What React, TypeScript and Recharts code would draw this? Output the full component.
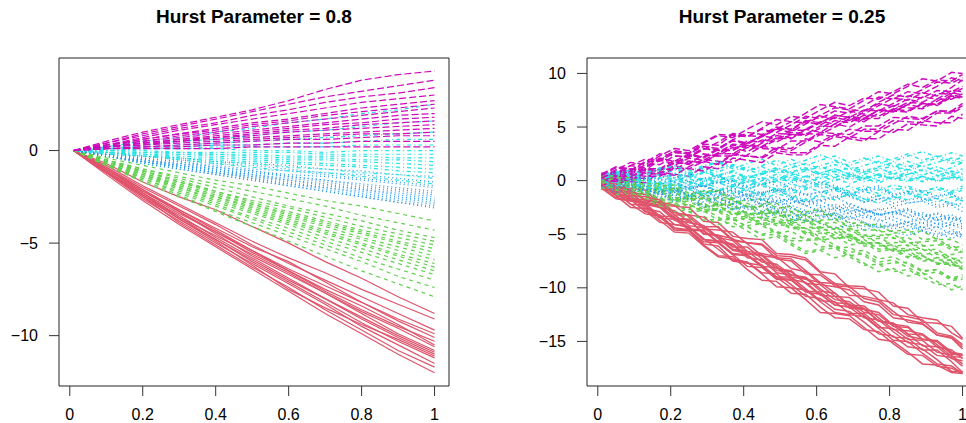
import { LineChart, Line, XAxis, YAxis, ReferenceArea } from 'recharts'

// time grid of each panel
const X_LEFT = [0.01, 0.1, 0.2, 0.3, 0.4, 0.5, 0.6, 0.7, 0.8, 0.9, 1.0]
const X_RIGHT = [
  0.01, 0.05, 0.09, 0.13, 0.17, 0.21, 0.25, 0.29, 0.33, 0.37, 0.41, 0.45, 0.49,
  0.53, 0.57, 0.61, 0.65, 0.69, 0.73, 0.77, 0.81, 0.85, 0.89, 0.93, 0.97, 1.0,
]
const X_TICKS = [0, 0.2, 0.4, 0.6, 0.8, 1]
const LEFT_Y_TICKS = [-10, -5, 0]
const RIGHT_Y_TICKS = [-15, -10, -5, 0, 5, 10]

// Hurst = 0.8 paths
const LEFT_RED = [
  [0, -0.7, -1.7, -2.5, -3.2, -4.1, -5.0, -6.0, -6.9, -7.9, -8.8],
  [0, -0.8, -1.9, -2.9, -3.9, -4.9, -5.8, -6.6, -7.5, -8.3, -9.1],
  [0, -0.9, -2.0, -3.0, -4.0, -5.1, -6.1, -7.0, -7.9, -8.8, -9.7],
  [0, -1.0, -2.2, -3.2, -4.2, -5.2, -6.0, -7.1, -8.2, -9.1, -9.9],
  [0, -1.0, -2.1, -3.3, -4.4, -5.4, -6.4, -7.3, -8.2, -9.2, -10.1],
  [0, -0.9, -2.1, -3.2, -4.3, -5.4, -6.5, -7.6, -8.6, -9.5, -10.3],
  [0, -1.1, -2.3, -3.4, -4.4, -5.5, -6.5, -7.5, -8.4, -9.4, -10.5],
  [0, -1.0, -2.2, -3.3, -4.5, -5.7, -6.7, -7.7, -8.7, -9.6, -10.6],
  [0, -1.1, -2.4, -3.6, -4.6, -5.6, -6.6, -7.7, -8.8, -9.9, -10.8],
  [0, -1.2, -2.4, -3.5, -4.7, -5.8, -6.9, -8.0, -9.0, -10.0, -10.9],
  [0, -1.0, -2.3, -3.6, -4.8, -5.9, -7.0, -8.0, -9.1, -10.1, -11.0],
  [0, -1.1, -2.5, -3.7, -4.8, -6.0, -7.1, -8.2, -9.3, -10.3, -11.2],
  [0, -1.2, -2.6, -3.8, -5.0, -6.1, -7.2, -8.3, -9.5, -10.5, -11.5],
  [0, -1.2, -2.5, -3.9, -5.1, -6.3, -7.4, -8.6, -9.7, -10.8, -11.7],
  [0, -1.3, -2.7, -4.0, -5.2, -6.4, -7.6, -8.8, -9.9, -11.0, -12.0],
  [0, -1.1, -2.4, -3.7, -4.9, -6.2, -7.5, -8.5, -9.4, -10.2, -11.1],
]
const LEFT_GREEN = [
  [0, -0.4, -0.8, -1.2, -1.6, -1.9, -2.3, -2.7, -3.0, -3.4, -3.8],
  [0, -0.5, -1.0, -1.4, -1.8, -2.2, -2.6, -3.0, -3.5, -3.9, -4.3],
  [0, -0.5, -1.0, -1.5, -2.0, -2.5, -3.0, -3.4, -3.8, -4.3, -4.7],
  [0, -0.6, -1.1, -1.7, -2.2, -2.7, -3.1, -3.6, -4.1, -4.5, -4.9],
  [0, -0.5, -1.1, -1.6, -2.2, -2.8, -3.3, -3.8, -4.3, -4.7, -5.1],
  [0, -0.6, -1.2, -1.8, -2.4, -2.9, -3.4, -3.9, -4.4, -4.9, -5.3],
  [0, -0.6, -1.1, -1.7, -2.3, -2.9, -3.5, -4.0, -4.5, -5.0, -5.5],
  [0, -0.6, -1.2, -1.9, -2.5, -3.0, -3.6, -4.1, -4.7, -5.2, -5.7],
  [0, -0.7, -1.3, -1.9, -2.5, -3.1, -3.7, -4.3, -4.8, -5.4, -5.9],
  [0, -0.6, -1.3, -2.0, -2.6, -3.2, -3.8, -4.4, -5.0, -5.6, -6.1],
  [0, -0.7, -1.4, -2.0, -2.7, -3.3, -3.9, -4.5, -5.1, -5.7, -6.3],
  [0, -0.7, -1.4, -2.1, -2.8, -3.4, -4.0, -4.7, -5.3, -5.9, -6.5],
  [0, -0.7, -1.5, -2.2, -2.9, -3.6, -4.2, -4.9, -5.5, -6.1, -6.7],
  [0, -0.8, -1.5, -2.3, -3.0, -3.7, -4.4, -5.1, -5.8, -6.4, -7.0],
  [0, -0.8, -1.6, -2.4, -3.2, -3.9, -4.6, -5.3, -6.0, -6.8, -7.4],
  [0, -0.8, -1.7, -2.5, -3.3, -4.1, -4.9, -5.7, -6.5, -7.2, -7.9],
]
const LEFT_BLUE = [
  [0, -0.1, -0.3, -0.4, -0.6, -0.7, -0.8, -1.0, -1.1, -1.3, -1.4],
  [0, -0.2, -0.3, -0.5, -0.7, -0.8, -1.0, -1.2, -1.3, -1.5, -1.7],
  [0, -0.2, -0.4, -0.6, -0.8, -1.0, -1.1, -1.3, -1.5, -1.7, -1.9],
  [0, -0.2, -0.4, -0.6, -0.9, -1.1, -1.3, -1.4, -1.6, -1.8, -2.0],
  [0, -0.2, -0.5, -0.7, -0.9, -1.1, -1.4, -1.6, -1.8, -2.0, -2.2],
  [0, -0.3, -0.5, -0.7, -1.0, -1.2, -1.4, -1.6, -1.9, -2.1, -2.3],
  [0, -0.3, -0.5, -0.8, -1.0, -1.3, -1.5, -1.7, -2.0, -2.2, -2.4],
  [0, -0.3, -0.5, -0.8, -1.1, -1.3, -1.6, -1.8, -2.1, -2.3, -2.5],
  [0, -0.3, -0.6, -0.8, -1.1, -1.4, -1.6, -1.9, -2.1, -2.4, -2.6],
  [0, -0.3, -0.6, -0.9, -1.2, -1.4, -1.7, -2.0, -2.2, -2.5, -2.7],
  [0, -0.3, -0.6, -0.9, -1.2, -1.5, -1.8, -2.0, -2.3, -2.6, -2.8],
  [0, -0.3, -0.6, -0.9, -1.2, -1.5, -1.8, -2.1, -2.4, -2.7, -2.9],
  [0, -0.3, -0.7, -1.0, -1.3, -1.6, -1.9, -2.2, -2.5, -2.8, -3.0],
  [0, -0.3, -0.7, -1.0, -1.3, -1.6, -1.9, -2.2, -2.5, -2.8, -3.1],
]
const LEFT_CYAN = [
  [0, 0.2, 0.5, 0.7, 1.0, 1.2, 1.5, 1.7, 2.0, 2.2, 2.5],
  [0, 0.1, 0.3, 0.5, 0.6, 0.8, 1.0, 1.1, 1.3, 1.5, 1.6],
  [0, 0.1, 0.2, 0.3, 0.4, 0.5, 0.6, 0.7, 0.8, 0.9, 1.0],
  [0, 0.1, 0.1, 0.2, 0.3, 0.3, 0.4, 0.4, 0.5, 0.6, 0.6],
  [0, 0.0, 0.1, 0.1, 0.2, 0.2, 0.2, 0.2, 0.3, 0.3, 0.3],
  [0, 0.0, 0.1, 0.1, 0.1, 0.0, 0.0, -0.1, 0.0, 0.0, 0.0],
  [0, 0.0, 0.0, -0.1, -0.1, -0.1, -0.1, -0.2, -0.2, -0.2, -0.2],
  [0, 0.0, -0.1, -0.1, -0.2, -0.2, -0.3, -0.3, -0.3, -0.4, -0.4],
  [0, -0.1, -0.1, -0.2, -0.2, -0.3, -0.4, -0.4, -0.5, -0.5, -0.6],
  [0, -0.1, -0.2, -0.2, -0.3, -0.4, -0.5, -0.5, -0.6, -0.7, -0.8],
  [0, -0.1, -0.2, -0.3, -0.4, -0.5, -0.6, -0.7, -0.8, -0.9, -1.0],
  [0, -0.1, -0.2, -0.4, -0.5, -0.6, -0.7, -0.8, -0.9, -1.1, -1.2],
  [0, -0.1, -0.3, -0.4, -0.6, -0.7, -0.9, -1.0, -1.2, -1.3, -1.5],
  [0, -0.2, -0.3, -0.5, -0.7, -0.9, -1.1, -1.2, -1.4, -1.6, -1.8],
]
const LEFT_MAGENTA = [
  [0, 0.5, 1.0, 1.4, 1.8, 2.2, 2.7, 3.3, 3.8, 4.1, 4.3],
  [0, 0.4, 0.9, 1.3, 1.7, 2.1, 2.5, 2.9, 3.2, 3.5, 3.8],
  [0, 0.4, 0.8, 1.2, 1.5, 1.9, 2.2, 2.6, 2.9, 3.1, 3.4],
  [0, 0.3, 0.7, 1.1, 1.4, 1.7, 2.0, 2.3, 2.6, 2.8, 3.0],
  [0, 0.3, 0.6, 0.9, 1.2, 1.5, 1.7, 2.0, 2.3, 2.5, 2.7],
  [0, 0.3, 0.6, 0.9, 1.1, 1.4, 1.6, 1.9, 2.1, 2.3, 2.5],
  [0, 0.3, 0.5, 0.8, 1.0, 1.3, 1.5, 1.7, 1.9, 2.1, 2.3],
  [0, 0.3, 0.5, 0.7, 0.9, 1.1, 1.3, 1.5, 1.7, 1.9, 2.0],
  [0, 0.2, 0.4, 0.6, 0.8, 1.0, 1.2, 1.4, 1.5, 1.7, 1.8],
  [0, 0.2, 0.4, 0.6, 0.7, 0.9, 1.1, 1.2, 1.4, 1.5, 1.6],
  [0, 0.2, 0.4, 0.5, 0.7, 0.8, 1.0, 1.1, 1.2, 1.3, 1.4],
  [0, 0.2, 0.3, 0.5, 0.6, 0.7, 0.8, 0.9, 1.0, 1.1, 1.2],
  [0, 0.2, 0.3, 0.4, 0.5, 0.6, 0.7, 0.8, 0.9, 0.9, 1.0],
  [0, 0.1, 0.2, 0.3, 0.4, 0.5, 0.6, 0.6, 0.7, 0.8, 0.8],
  [0, 0.1, 0.2, 0.2, 0.3, 0.3, 0.4, 0.4, 0.5, 0.5, 0.5],
  [0, 0.1, 0.1, 0.1, 0.1, 0.2, 0.2, 0.2, 0.2, 0.2, 0.2],
]

// Hurst = 0.25 paths
const RIGHT_RED = [
  [-.5, -1.4, -1.7, -2.9, -3.2, -4.4, -4.6, -5.9, -6.1, -7.4, -7.6, -8.6, -8.7, -9.7, -10.8, -11.0, -12.0, -12.2, -13.2, -14.3, -14.5, -15.5, -15.7, -16.7, -17.8, -17.8],
  [.2, -.7, -.9, -1.9, -2.0, -3.2, -3.2, -4.3, -4.3, -5.5, -5.8, -6.0, -7.3, -7.5, -8.7, -8.8, -9.8, -9.9, -11.0, -11.3, -12.5, -12.7, -13.0, -14.2, -14.5, -15.3],
  [-.3, -1.3, -1.4, -2.4, -3.5, -3.6, -4.6, -4.7, -5.8, -6.9, -7.0, -8.0, -8.1, -9.2, -10.3, -10.4, -11.4, -11.5, -12.6, -13.7, -13.8, -14.8, -14.9, -16.0, -16.3, -17.1],
  [0, -1.0, -1.2, -2.2, -2.4, -3.5, -3.6, -5.0, -5.1, -6.2, -6.2, -7.3, -8.4, -8.5, -9.6, -9.7, -10.8, -10.9, -12.0, -13.1, -13.3, -14.3, -14.4, -15.5, -15.8, -16.6],
  [-.8, -1.0, -2.2, -3.1, -3.3, -4.6, -4.7, -6.0, -7.0, -7.1, -8.3, -9.3, -9.4, -10.5, -10.6, -11.8, -12.8, -12.9, -13.9, -14.1, -15.2, -16.2, -16.3, -17.3, -17.5, -18.0],
  [.5, -.5, -.7, -.9, -2.2, -2.4, -2.5, -3.8, -3.9, -5.2, -5.4, -5.5, -6.8, -6.9, -7.2, -8.5, -8.7, -10.0, -10.1, -10.4, -11.7, -11.9, -13.2, -13.3, -13.6, -14.7],
  [-.2, -1.2, -1.5, -2.6, -2.9, -4.1, -4.3, -5.5, -5.7, -6.0, -7.2, -7.4, -8.6, -8.8, -9.1, -10.3, -10.5, -11.7, -11.9, -13.1, -13.4, -13.6, -14.8, -15.0, -16.2, -16.3],
  [-.4, -.6, -1.8, -2.0, -2.3, -3.5, -3.7, -4.9, -5.1, -5.4, -6.6, -6.8, -7.1, -8.2, -8.5, -9.7, -9.9, -10.2, -11.3, -11.6, -12.8, -13.0, -13.3, -14.4, -14.7, -15.7],
  [-.1, -1.1, -2.2, -2.3, -3.4, -4.5, -4.6, -5.7, -5.8, -6.9, -8.0, -8.1, -9.2, -9.3, -10.4, -10.6, -11.6, -11.8, -12.8, -13.0, -14.1, -15.1, -15.3, -16.3, -16.5, -17.3],
  [-.6, -.8, -1.1, -2.2, -2.5, -3.7, -3.9, -4.2, -5.3, -5.6, -6.8, -7.0, -8.2, -8.4, -9.6, -10.7, -10.8, -11.9, -12.0, -13.1, -13.3, -14.3, -15.4, -15.5, -16.6, -16.8],
  [.3, .1, -1.1, -1.3, -2.5, -2.8, -3.9, -4.2, -5.3, -6.4, -6.6, -7.6, -7.8, -8.8, -9.0, -10.1, -11.1, -11.3, -12.3, -12.5, -13.6, -13.7, -14.8, -14.9, -16.0, -16.2],
  [-.7, -1.7, -1.9, -2.1, -3.3, -3.4, -4.5, -4.6, -5.7, -6.8, -6.9, -7.9, -9.0, -9.0, -10.1, -11.2, -11.3, -12.4, -12.4, -13.5, -14.6, -14.7, -15.8, -15.8, -16.9, -17.9],
  [.1, -.9, -1.9, -2.1, -2.4, -3.4, -4.4, -5.5, -5.6, -5.9, -7.0, -8.0, -9.1, -9.2, -9.5, -10.6, -11.6, -11.8, -12.0, -12.3, -13.5, -14.5, -14.8, -15.0, -16.1, -16.3],
  [-.4, -.5, -.8, -1.8, -2.0, -2.3, -3.4, -4.5, -4.6, -4.8, -5.9, -7.0, -7.2, -7.3, -8.4, -9.5, -9.6, -10.7, -10.8, -11.1, -12.2, -13.2, -13.4, -14.4, -14.6, -15.5],
  [-.6, -1.6, -1.8, -2.8, -3.9, -4.1, -4.3, -5.4, -6.4, -7.5, -7.7, -7.9, -9.0, -10.0, -10.2, -11.3, -12.3, -12.5, -12.7, -13.8, -14.9, -15.0, -16.1, -17.1, -17.3, -18.0],
  [.4, -.6, -1.7, -1.8, -2.1, -3.2, -4.2, -4.4, -5.4, -6.5, -6.8, -6.9, -8.0, -9.0, -9.2, -9.5, -10.5, -11.6, -11.7, -12.8, -13.9, -14.0, -14.3, -15.3, -16.4, -16.5],
  [-.2, -.3, -1.4, -1.5, -1.8, -3.0, -3.2, -3.4, -4.4, -5.6, -5.8, -5.9, -7.0, -7.1, -7.4, -8.6, -9.6, -9.8, -9.9, -11.1, -11.4, -12.5, -12.8, -13.0, -14.2, -14.8],
  [-.3, -1.4, -2.5, -2.6, -3.7, -4.8, -4.9, -6.1, -7.1, -7.3, -7.6, -8.7, -9.9, -10.0, -11.1, -12.3, -12.4, -12.6, -13.7, -14.8, -15.0, -16.0, -17.1, -17.2, -17.9, -18.0],
]
const RIGHT_GREEN = [
  [.2, .2, -.5, -.2, -1.0, -.8, -1.5, -1.2, -1.9, -1.7, -2.5, -2.4, -3.3, -3.2, -3.2, -4.0, -3.9, -4.7, -4.6, -4.6, -5.4, -5.3, -6.1, -6.0, -6.0, -6.7],
  [-.5, -.5, -1.3, -1.2, -2.2, -2.0, -2.9, -2.8, -3.7, -3.6, -4.3, -5.0, -4.7, -5.4, -5.3, -6.2, -6.1, -7.0, -6.8, -7.6, -7.4, -8.1, -8.8, -8.5, -9.3, -9.2],
  [0, .1, -.8, -.7, -.7, -1.6, -1.5, -2.4, -2.2, -2.2, -3.1, -3.0, -3.9, -3.7, -3.7, -4.6, -4.5, -5.4, -5.2, -5.2, -6.1, -6.0, -6.9, -6.7, -7.5, -7.4],
  [-.3, -.2, -1.0, -.9, -1.8, -1.7, -2.5, -2.1, -2.9, -2.9, -3.9, -3.7, -3.6, -4.4, -4.4, -5.3, -5.1, -6.0, -5.8, -5.8, -6.6, -6.5, -7.4, -7.2, -8.0, -7.9],
  [.5, -.2, 0, 0, -.9, -.6, -1.4, -1.1, -1.0, -2.0, -1.8, -1.7, -2.6, -2.4, -3.4, -3.2, -3.1, -4.0, -3.9, -4.8, -4.7, -4.6, -5.5, -5.4, -6.3, -6.1],
  [-.8, -.7, -1.5, -2.2, -2.0, -2.8, -3.6, -3.3, -4.1, -3.9, -4.7, -5.5, -5.2, -6.0, -6.8, -6.5, -7.2, -6.9, -7.7, -8.5, -8.2, -8.9, -8.6, -9.4, -10.2, -9.8],
  [-.1, 0, -.7, -.5, -1.3, -1.1, -1.8, -1.6, -2.3, -3.1, -2.9, -3.6, -3.4, -4.1, -4.9, -4.7, -5.4, -5.2, -5.9, -5.8, -6.5, -7.2, -7.0, -7.7, -7.6, -8.2],
  [.1, -.6, -.4, -1.1, -1.9, -1.7, -2.4, -2.2, -2.9, -3.7, -3.5, -4.2, -4.9, -4.7, -5.5, -5.3, -6.0, -6.7, -6.5, -7.3, -7.1, -7.8, -8.5, -8.3, -9.1, -8.8],
  [-.2, -.1, 0, -.8, -.8, -.7, -1.5, -1.4, -2.2, -2.2, -2.1, -2.9, -2.8, -3.6, -3.6, -4.4, -4.3, -5.1, -5.0, -5.9, -5.8, -5.7, -6.5, -6.4, -7.3, -7.2],
  [.3, -.4, -1.1, -.9, -1.7, -1.5, -2.2, -2.9, -2.7, -3.5, -3.3, -4.0, -3.8, -4.5, -4.4, -4.3, -5.1, -5.0, -5.8, -5.8, -6.6, -6.5, -6.4, -7.2, -7.2, -7.7],
  [-.6, -1.3, -1.1, -1.8, -1.7, -2.4, -2.2, -2.9, -2.7, -2.7, -3.5, -3.4, -4.2, -4.1, -5.0, -4.9, -4.8, -5.6, -5.5, -6.4, -6.3, -7.1, -7.0, -7.8, -7.8, -8.3],
  [.4, .5, -.3, -1.0, -.9, -1.8, -1.6, -2.5, -2.3, -2.3, -3.2, -3.1, -3.0, -3.9, -3.9, -3.8, -4.6, -4.5, -5.4, -5.4, -5.3, -6.1, -6.0, -6.9, -6.9, -6.6],
  [-.4, -.3, -.3, -1.0, -1.8, -1.8, -1.7, -1.6, -2.4, -3.2, -3.1, -3.0, -2.9, -3.7, -4.5, -4.4, -4.3, -5.1, -5.8, -6.6, -6.4, -6.3, -7.0, -7.7, -7.7, -8.2],
  [.1, -.7, -1.4, -1.3, -2.2, -2.9, -2.7, -2.6, -3.4, -4.3, -4.2, -4.0, -4.8, -5.6, -5.6, -5.5, -6.3, -6.2, -7.0, -7.8, -7.7, -7.6, -8.4, -8.3, -9.2, -9.0],
  [.3, .4, -.4, -.3, -.3, -1.1, -1.8, -1.7, -1.6, -1.6, -2.4, -3.1, -3.0, -2.9, -3.8, -3.7, -3.6, -4.4, -5.1, -5.1, -5.0, -5.8, -5.7, -5.6, -6.5, -6.4],
  [-.7, -.6, -.5, -1.3, -2.1, -2.0, -1.9, -2.7, -2.6, -2.6, -3.3, -4.1, -4.0, -3.9, -4.8, -5.5, -5.4, -5.3, -6.1, -6.1, -6.0, -6.8, -7.5, -7.4, -7.4, -8.0],
  [-.1, -.9, -.8, -1.6, -2.4, -2.2, -2.9, -3.7, -3.6, -3.5, -4.3, -5.1, -5.0, -5.8, -6.6, -6.4, -6.3, -7.1, -7.9, -7.8, -8.5, -8.3, -9.0, -9.7, -9.6, -10.2],
  [0, .2, .3, -.5, -.5, -.4, -1.2, -1.0, -.9, -1.8, -2.5, -2.3, -2.1, -2.9, -2.9, -2.7, -3.5, -4.3, -4.1, -4.1, -4.9, -4.8, -4.7, -5.5, -5.5, -6.0],
]
const RIGHT_BLUE = [
  [-.3, -.8, -.5, -1.3, -1.0, -1.7, -1.4, -2.2, -1.9, -2.7, -2.3, -2.9, -2.4, -3.0, -3.5, -3.2, -3.7, -3.4, -3.9, -4.4, -4.1, -4.6, -4.3, -4.8, -5.4, -5.0],
  [.4, -.1, .3, -.3, .2, -.5, 0, -.6, -.1, -.8, -.5, -.3, -1.0, -.8, -1.4, -1.0, -1.5, -1.1, -1.7, -1.4, -2.1, -1.8, -1.6, -2.3, -2.1, -2.5],
  [-.1, -.7, -.2, -.8, -1.3, -.9, -1.4, -1.0, -1.6, -2.2, -1.7, -2.3, -1.8, -2.5, -3.0, -2.6, -3.1, -2.7, -3.3, -3.8, -3.4, -3.9, -3.5, -4.1, -3.9, -4.3],
  [.2, -.4, 0, -.6, -.2, -.8, -.4, -1.3, -.9, -1.5, -.9, -1.6, -2.1, -1.8, -2.3, -1.9, -2.5, -2.1, -2.7, -3.2, -2.9, -3.4, -3.0, -3.6, -3.4, -3.8],
  [-.6, -.4, -1.0, -1.5, -1.1, -1.9, -1.5, -2.3, -2.8, -2.4, -3.0, -3.6, -3.1, -3.8, -3.3, -4.0, -4.5, -4.1, -4.6, -4.2, -4.8, -5.1, -4.7, -5.2, -4.9, -5.3],
  [.7, .1, .5, .7, 0, .3, .7, -.1, .3, -.5, -.1, .2, -.5, -.2, .1, -.7, -.4, -1.2, -.8, -.5, -1.3, -1.0, -1.8, -1.4, -1.2, -1.9],
  [0, -.6, -.3, -1.0, -.7, -1.4, -1.1, -1.8, -1.5, -1.3, -1.9, -1.7, -2.3, -2.1, -1.8, -2.5, -2.2, -2.9, -2.6, -3.2, -3.0, -2.7, -3.4, -3.1, -3.8, -3.5],
  [-.2, 0, -.6, -.4, -.1, -.8, -.5, -1.2, -.9, -.7, -1.3, -1.1, -.8, -1.5, -1.2, -1.9, -1.6, -1.4, -2.0, -1.7, -2.4, -2.1, -1.9, -2.5, -2.3, -2.9],
  [.1, -.5, -1.0, -.7, -1.2, -1.8, -1.4, -2.0, -1.6, -2.2, -2.7, -2.4, -2.9, -2.6, -3.1, -2.8, -3.3, -3.0, -3.5, -3.1, -3.7, -4.2, -3.9, -4.4, -4.1, -4.5],
  [-.4, -.2, .1, -.6, -.3, -1.0, -.7, -.5, -1.1, -.9, -1.5, -1.3, -1.9, -1.7, -2.3, -2.9, -2.5, -3.1, -2.7, -3.2, -2.9, -3.4, -4.0, -3.6, -4.2, -4.0],
  [.5, .7, .1, .3, -.3, -.1, -.7, -.5, -1.1, -1.7, -1.3, -1.9, -1.5, -2.1, -1.7, -2.3, -2.8, -2.5, -3.0, -2.6, -3.2, -2.8, -3.4, -3.0, -3.6, -3.4],
  [-.5, -1.1, -.7, -.5, -1.1, -.7, -1.3, -.9, -1.5, -2.1, -1.6, -2.2, -2.7, -2.3, -2.8, -3.4, -3.0, -3.6, -3.1, -3.6, -4.2, -3.8, -4.4, -3.9, -4.5, -5.1],
  [-.3, -.1, .1, -.5, -1.0, -.9, -.6, -.4, -1.0, -1.6, -1.3, -1.1, -.8, -1.5, -2.0, -1.8, -1.5, -2.2, -2.7, -3.2, -2.9, -2.6, -3.2, -3.7, -3.5, -3.9],
  [.2, -.5, -1.0, -.8, -1.4, -2.0, -1.6, -1.4, -2.0, -2.7, -2.4, -2.1, -2.7, -3.4, -3.1, -2.9, -3.5, -3.3, -3.9, -4.4, -4.2, -3.9, -4.6, -4.3, -5.0, -4.7],
  [.4, .6, 0, .2, .5, -.2, -.7, -.5, -.2, 0, -.6, -1.2, -.9, -.7, -1.3, -1.1, -.8, -1.5, -2.0, -1.7, -1.5, -2.1, -1.9, -1.6, -2.3, -2.1],
  [-.6, -.4, -.1, -.8, -1.3, -1.1, -.8, -1.5, -1.2, -1.0, -1.5, -2.2, -1.9, -1.7, -2.3, -2.9, -2.6, -2.4, -3.0, -2.7, -2.5, -3.1, -3.7, -3.4, -3.2, -3.7],
  [0, -.7, -.4, -1.1, -1.6, -1.3, -1.8, -2.5, -2.2, -1.9, -2.5, -3.2, -2.9, -3.4, -3.8, -3.5, -3.2, -3.9, -4.3, -4.0, -4.5, -4.2, -4.7, -5.0, -4.7, -5.1],
  [.1, .4, .7, 0, .3, .5, -.1, .2, .5, -.2, -.7, -.4, 0, -.7, -.4, -.1, -.7, -1.4, -1.0, -.7, -1.4, -1.1, -.9, -1.5, -1.3, -1.7],
]
const RIGHT_CYAN = [
  [.3, .6, .2, .8, .5, 1.0, .6, 1.2, .8, 1.4, .9, 1.3, .7, 1.2, 1.6, 1.1, 1.5, 1.0, 1.4, 1.8, 1.3, 1.8, 1.3, 1.7, 2.1, 1.6],
  [-.4, -.1, -.6, -.2, -.7, -.2, -.8, -.4, -1.0, -.5, -.9, -1.3, -.7, -1.0, -.5, -1.1, -.7, -1.3, -.8, -1.2, -.7, -1.0, -1.4, -.8, -1.2, -.9],
  [.1, .5, -.1, .3, .8, .2, .6, 0, .5, .9, .3, .7, .1, .7, 1.1, .5, .9, .3, .8, 1.2, .6, 1.1, .5, 1.0, .6, .9],
  [-.2, .2, -.3, .1, -.3, .1, -.4, .3, -.2, .2, -.5, 0, .4, 0, .4, -.2, .3, -.3, .2, .6, .1, .6, 0, .5, .1, .4],
  [.6, .2, .7, 1.0, .6, 1.2, .7, 1.3, 1.7, 1.1, 1.6, 2.0, 1.4, 2.0, 1.4, 1.9, 2.3, 1.7, 2.1, 1.6, 2.0, 2.5, 1.9, 2.3, 1.8, 2.2],
  [-.7, -.3, -.8, -1.2, -.5, -1.0, -1.5, -.9, -1.4, -.8, -1.3, -1.8, -1.2, -1.6, -2.0, -1.4, -1.8, -1.2, -1.7, -2.1, -1.5, -1.8, -1.2, -1.7, -2.1, -1.5],
  [0, .4, 0, .5, .2, .7, .3, .8, .4, 0, .5, .1, .6, .3, -.1, .4, 0, .5, .1, .6, .2, -.1, .4, 0, .5, .1],
  [.2, -.2, .3, -.1, -.4, .1, -.3, .2, -.2, -.6, -.1, -.5, -.9, -.3, -.7, -.2, -.6, -1.0, -.5, -.9, -.4, -.7, -1.1, -.6, -1.0, -.5],
  [-.1, .3, .7, .2, .7, 1.1, .6, 1.0, .5, .9, 1.3, .8, 1.2, .8, 1.2, .7, 1.1, .6, 1.0, .5, .9, 1.4, .9, 1.3, .8, 1.1],
  [.4, 0, -.4, .1, -.2, .3, -.1, -.5, 0, -.4, .1, -.3, .2, -.1, .4, .8, .3, .7, .2, .6, .1, .6, 1.0, .5, .9, .6],
  [-.5, -.9, -.4, -.8, -.2, -.6, -.1, -.5, 0, .4, -.1, .3, -.2, .3, -.2, .2, .6, .1, .5, 0, .4, 0, .4, -.1, .3, 0],
  [.5, .9, .4, 0, .6, 0, .5, -.1, .4, .8, .2, .6, 1.0, .5, .9, 1.3, .8, 1.2, .6, 1.0, 1.4, 1.0, 1.4, .8, 1.2, 1.7],
  [-.3, .1, .4, 0, -.3, 0, .4, .8, .3, -.1, .3, .7, 1.1, .7, .3, .7, 1.1, .6, .2, -.2, .3, .8, .4, 0, .4, .1],
  [.2, -.3, -.7, -.3, -.7, -1.1, -.6, -.2, -.7, -1.2, -.8, -.3, -.8, -1.2, -.8, -.4, -.9, -.5, -1.0, -1.4, -1.0, -.5, -1.0, -.6, -1.1, -.7],
  [.4, .8, .3, .7, 1.2, .7, .3, .7, 1.1, 1.5, 1.0, .6, 1.0, 1.5, 1.0, 1.4, 1.8, 1.3, .9, 1.3, 1.7, 1.3, 1.7, 2.1, 1.6, 1.9],
  [-.6, -.2, .2, -.3, -.6, -.2, .2, -.3, .1, .5, .1, -.4, 0, .5, 0, -.4, 0, .4, -.1, .3, .7, .3, -.1, .3, .7, .3],
  [0, -.5, -.1, -.6, -.9, -.4, -.8, -1.3, -.9, -.4, -.9, -1.4, -1.0, -1.4, -1.8, -1.3, -.9, -1.4, -1.9, -1.4, -1.8, -1.2, -1.6, -2.0, -1.5, -1.9],
  [.1, .6, 1.0, .5, 1.0, 1.4, .9, 1.4, 1.8, 1.3, .9, 1.4, 1.9, 1.5, 1.9, 2.4, 1.9, 1.4, 1.9, 2.3, 1.8, 2.3, 2.7, 2.2, 2.6, 2.3],
]
const RIGHT_MAGENTA = [
  [.4, 1.0, .9, 1.8, 1.8, 2.6, 2.5, 3.4, 3.3, 4.3, 4.1, 4.8, 4.5, 5.2, 6.0, 5.8, 6.5, 6.3, 7.0, 7.8, 7.6, 8.3, 8.1, 8.8, 9.6, 9.3],
  [-.3, .3, .1, .8, .6, 1.4, 1.1, 1.8, 1.5, 2.4, 2.3, 2.2, 3.1, 3.0, 3.9, 3.6, 4.3, 4.0, 4.8, 4.8, 5.6, 5.5, 5.4, 6.3, 6.3, 6.8],
  [.2, .9, .6, 1.3, 2.1, 1.8, 2.5, 2.2, 3.0, 3.8, 3.5, 4.2, 3.9, 4.7, 5.5, 5.2, 5.9, 5.6, 6.4, 7.2, 6.9, 7.6, 7.3, 8.1, 8.1, 8.6],
  [-.1, .6, .4, 1.1, 1.0, 1.7, 1.5, 2.5, 2.3, 3.1, 2.7, 3.5, 4.2, 4.0, 4.8, 4.5, 5.3, 5.0, 5.8, 6.6, 6.4, 7.1, 6.8, 7.6, 7.6, 8.1],
  [.7, .6, 1.4, 2.0, 1.9, 2.8, 2.6, 3.5, 4.2, 4.0, 4.8, 5.5, 5.2, 6.0, 5.8, 6.6, 7.3, 7.0, 7.7, 7.6, 8.3, 9.0, 8.7, 9.4, 9.3, 9.9],
  [-.6, .1, -.1, -.2, .8, .6, .4, 1.3, 1.1, 2.1, 1.9, 1.7, 2.6, 2.4, 2.4, 3.3, 3.2, 4.1, 3.9, 3.9, 4.8, 4.7, 5.6, 5.4, 5.4, 6.2],
  [.1, .8, .7, 1.5, 1.5, 2.3, 2.2, 3.0, 2.9, 2.9, 3.7, 3.6, 4.4, 4.3, 4.3, 5.1, 5.0, 5.8, 5.7, 6.6, 6.5, 6.4, 7.2, 7.1, 8.0, 7.8],
  [.3, .2, 1.0, .9, .9, 1.7, 1.6, 2.4, 2.3, 2.3, 3.1, 3.0, 2.9, 3.7, 3.7, 4.5, 4.4, 4.3, 5.1, 5.1, 5.9, 5.8, 5.7, 6.5, 6.5, 7.2],
  [0, .7, 1.4, 1.2, 2.0, 2.7, 2.5, 3.2, 3.0, 3.8, 4.5, 4.3, 5.0, 4.8, 5.6, 5.4, 6.1, 5.9, 6.6, 6.5, 7.2, 7.9, 7.7, 8.4, 8.3, 8.8],
  [.5, .4, .3, 1.1, 1.1, 1.9, 1.8, 1.7, 2.5, 2.5, 3.3, 3.2, 4.0, 3.9, 4.8, 5.5, 5.3, 6.0, 5.8, 6.6, 6.4, 7.1, 7.8, 7.6, 8.4, 8.3],
  [-.4, -.5, .3, .2, 1.1, 1.0, 1.8, 1.7, 2.5, 3.3, 3.1, 3.8, 3.6, 4.3, 4.2, 4.9, 5.6, 5.4, 6.1, 6.0, 6.7, 6.5, 7.2, 7.0, 7.8, 7.7],
  [.6, 1.3, 1.1, 1.0, 1.9, 1.6, 2.4, 2.1, 2.9, 3.7, 3.4, 4.1, 4.8, 4.5, 5.3, 6.0, 5.8, 6.5, 6.2, 7.0, 7.7, 7.5, 8.2, 7.9, 8.7, 9.4],
  [-.2, .5, 1.1, 1.0, 1.0, 1.6, 2.3, 3.0, 2.8, 2.8, 3.5, 4.2, 4.9, 4.7, 4.7, 5.4, 6.1, 5.9, 5.8, 5.8, 6.6, 7.3, 7.2, 7.1, 7.9, 7.8],
  [.3, .1, 0, .7, .6, .5, 1.3, 2.0, 1.8, 1.7, 2.4, 3.2, 3.0, 2.8, 3.6, 4.3, 4.1, 4.8, 4.6, 4.6, 5.3, 6.0, 5.8, 6.5, 6.4, 7.0],
  [.5, 1.2, 1.0, 1.7, 2.5, 2.3, 2.2, 2.9, 3.6, 4.4, 4.2, 4.1, 4.8, 5.5, 5.4, 6.1, 6.8, 6.6, 6.5, 7.3, 8.0, 7.8, 8.5, 9.2, 9.1, 9.6],
  [-.5, .2, .9, .7, .7, 1.4, 2.1, 1.9, 2.6, 3.4, 3.3, 3.1, 3.8, 4.5, 4.4, 4.3, 5.0, 5.7, 5.5, 6.3, 7.0, 6.8, 6.7, 7.4, 8.2, 8.0],
  [.1, -.1, .6, .4, .4, 1.2, 1.1, .9, 1.6, 2.5, 2.3, 2.1, 2.8, 2.6, 2.6, 3.4, 4.1, 3.9, 3.7, 4.6, 4.5, 5.3, 5.2, 5.1, 6.0, 5.8],
  [.2, 1.0, 1.7, 1.5, 2.3, 3.0, 2.8, 3.6, 4.3, 4.2, 4.1, 4.9, 5.7, 5.5, 6.3, 7.1, 6.9, 6.7, 7.5, 8.3, 8.1, 8.8, 9.5, 9.3, 10.1, 10.0],
]

const SERIES = [
  { key: 'red', color: '#DF536B', dash: undefined },
  { key: 'green', color: '#61D04F', dash: '4 4' },
  { key: 'blue', color: '#2297E6', dash: '1 3' },
  { key: 'cyan', color: '#28E2E5', dash: '1 3 4 3' },
  { key: 'magenta', color: '#CD0BBC', dash: '7 3' },
]

const X_DOMAIN: [number, number] = [-0.0296, 1.0396]
const FONT = '"Liberation Sans", Arial, Helvetica, sans-serif'

const fmt = (v: number) => (v < 0 ? '\u2212' + Math.abs(v) : String(v))

function buildRows(xs: number[], groups: number[][][]) {
  return xs.map((x, i) => {
    const row: Record<string, number> = { x }
    groups.forEach((paths, g) => {
      paths.forEach((p, j) => {
        row[`${SERIES[g].key}${j}`] = p[i]
      })
    })
    return row
  })
}

// matplot draws columns in turn, so colours interleave
function lineOrder(groups: number[][][]) {
  const n = Math.max(...groups.map((g) => g.length))
  const out: { g: number; j: number }[] = []
  for (let j = 0; j < n; j++) {
    groups.forEach((paths, g) => {
      if (j < paths.length) out.push({ g, j })
    })
  }
  return out
}

interface PanelProps {
  left: number
  title: string
  xs: number[]
  groups: number[][][]
  yDomain: [number, number]
  yTicks: number[]
  lineWidth: number
}

function Panel({ left, title, xs, groups, yDomain, yTicks, lineWidth }: PanelProps) {
  const rows = buildRows(xs, groups)
  const order = lineOrder(groups)
  return (
    <div style={{ position: 'absolute', left, top: 0, width: 460, height: 423 }}>
      <div
        style={{
          position: 'absolute',
          left: 59,
          top: 6,
          width: 390,
          textAlign: 'center',
          fontFamily: FONT,
          fontWeight: 'bold',
          fontSize: 19,
          lineHeight: '22px',
          color: '#000',
        }}
      >
        {title}
      </div>
      <LineChart
        width={460}
        height={423}
        data={rows}
        margin={{ top: 58, right: 11, bottom: 0, left: 0 }}
        style={{ fontFamily: FONT }}
      >
        <XAxis
          type="number"
          dataKey="x"
          domain={X_DOMAIN}
          ticks={X_TICKS}
          interval={0}
          allowDataOverflow
          axisLine={false}
          tickLine={{ stroke: '#333' }}
          tickSize={10}
          tickMargin={13}
          height={37}
          tick={{ fill: '#000', fontSize: 16 }}
        />
        <YAxis
          type="number"
          domain={yDomain}
          ticks={yTicks}
          interval={0}
          allowDataOverflow
          axisLine={false}
          tickLine={{ stroke: '#333' }}
          tickSize={10}
          tickMargin={11}
          width={59}
          tick={{ fill: '#000', fontSize: 16 }}
          tickFormatter={fmt}
        />
        {order.map(({ g, j }) => (
          <Line
            key={`${SERIES[g].key}${j}`}
            type="linear"
            dataKey={`${SERIES[g].key}${j}`}
            stroke={SERIES[g].color}
            strokeWidth={lineWidth}
            strokeDasharray={SERIES[g].dash}
            dot={false}
            activeDot={false}
            isAnimationActive={false}
          />
        ))}
        <ReferenceArea
          x1={X_DOMAIN[0]}
          x2={X_DOMAIN[1]}
          y1={yDomain[0]}
          y2={yDomain[1]}
          fill="none"
          stroke="#222"
          strokeWidth={1}
          ifOverflow="visible"
        />
      </LineChart>
    </div>
  )
}

export default function App() {
  return (
    <div
      style={{
        position: 'fixed',
        left: 0,
        top: 0,
        width: 966,
        height: 423,
        overflow: 'hidden',
        background: '#fff',
      }}
    >
      <Panel
        left={0}
        title="Hurst Parameter = 0.8"
        xs={X_LEFT}
        groups={[LEFT_RED, LEFT_GREEN, LEFT_BLUE, LEFT_CYAN, LEFT_MAGENTA]}
        yDomain={[-12.72, 5.0]}
        yTicks={LEFT_Y_TICKS}
        lineWidth={1.2}
      />
      <Panel
        left={528}
        title="Hurst Parameter = 0.25"
        xs={X_RIGHT}
        groups={[RIGHT_RED, RIGHT_GREEN, RIGHT_BLUE, RIGHT_CYAN, RIGHT_MAGENTA]}
        yDomain={[-19.16, 11.44]}
        yTicks={RIGHT_Y_TICKS}
        lineWidth={1.45}
      />
    </div>
  )
}
